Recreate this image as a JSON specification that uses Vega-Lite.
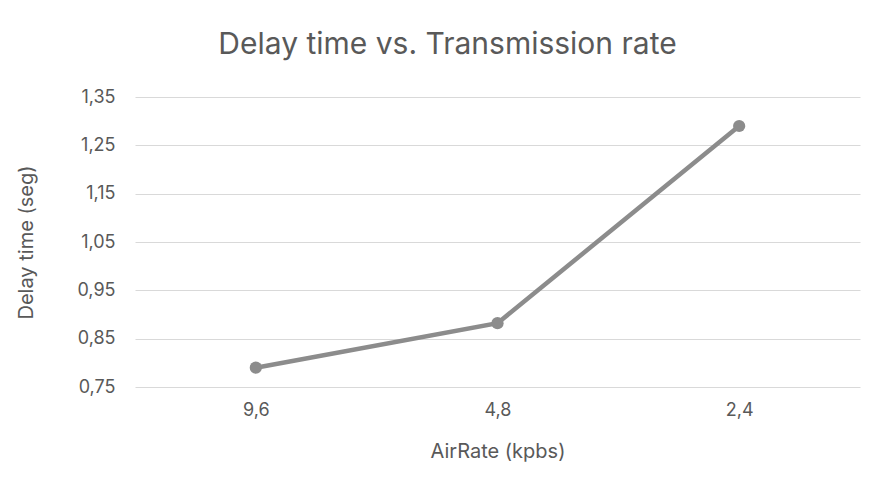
{
  "$schema": "https://vega.github.io/schema/vega-lite/v6.json",
  "width": 725,
  "height": 290,
  "autosize": {"type": "none"},
  "padding": {"left": 135, "top": 97, "right": 15, "bottom": 103},
  "background": "white",
  "config": {
    "view": {"stroke": null},
    "font": "Inter",
    "axis": {"labelFont": "Inter", "titleFont": "Inter", "labelColor": "#595959", "titleColor": "#595959", "titleFontWeight": "normal"}
  },
  "title": {
    "text": "Delay time vs. Transmission rate",
    "fontSize": 30,
    "fontWeight": "normal",
    "color": "#595959",
    "font": "Inter",
    "anchor": "middle",
    "dx": -50,
    "offset": 28
  },
  "data": {
    "values": [
      {"rate": "9,6", "delay": 0.79},
      {"rate": "4,8", "delay": 0.882},
      {"rate": "2,4", "delay": 1.29}
    ]
  },
  "encoding": {
    "x": {
      "field": "rate",
      "type": "nominal",
      "sort": null,
      "scale": {"type": "point", "padding": 0.5},
      "axis": {
        "title": "AirRate (kpbs)",
        "titleFontSize": 20,
        "titlePadding": 22,
        "labelFontSize": 18,
        "labelAngle": 0,
        "labelPadding": 14,
        "ticks": false,
        "domain": false,
        "grid": false
      }
    },
    "y": {
      "field": "delay",
      "type": "quantitative",
      "scale": {"domain": [0.75, 1.35], "nice": false, "zero": false},
      "axis": {
        "title": "Delay time (seg)",
        "titleFontSize": 20,
        "titlePadding": 40,
        "labelFontSize": 18,
        "labelPadding": 20,
        "values": [0.75, 0.85, 0.95, 1.05, 1.15, 1.25, 1.35],
        "labelExpr": "replace(format(datum.value, '.2f'), '.', ',')",
        "ticks": false,
        "domain": false,
        "grid": true,
        "gridColor": "#d9d9d9",
        "gridWidth": 1.2
      }
    }
  },
  "layer": [
    {"mark": {"type": "line", "color": "#8c8c8c", "strokeWidth": 4.5}},
    {"mark": {"type": "point", "filled": true, "color": "#8c8c8c", "opacity": 1, "size": 150}}
  ]
}
